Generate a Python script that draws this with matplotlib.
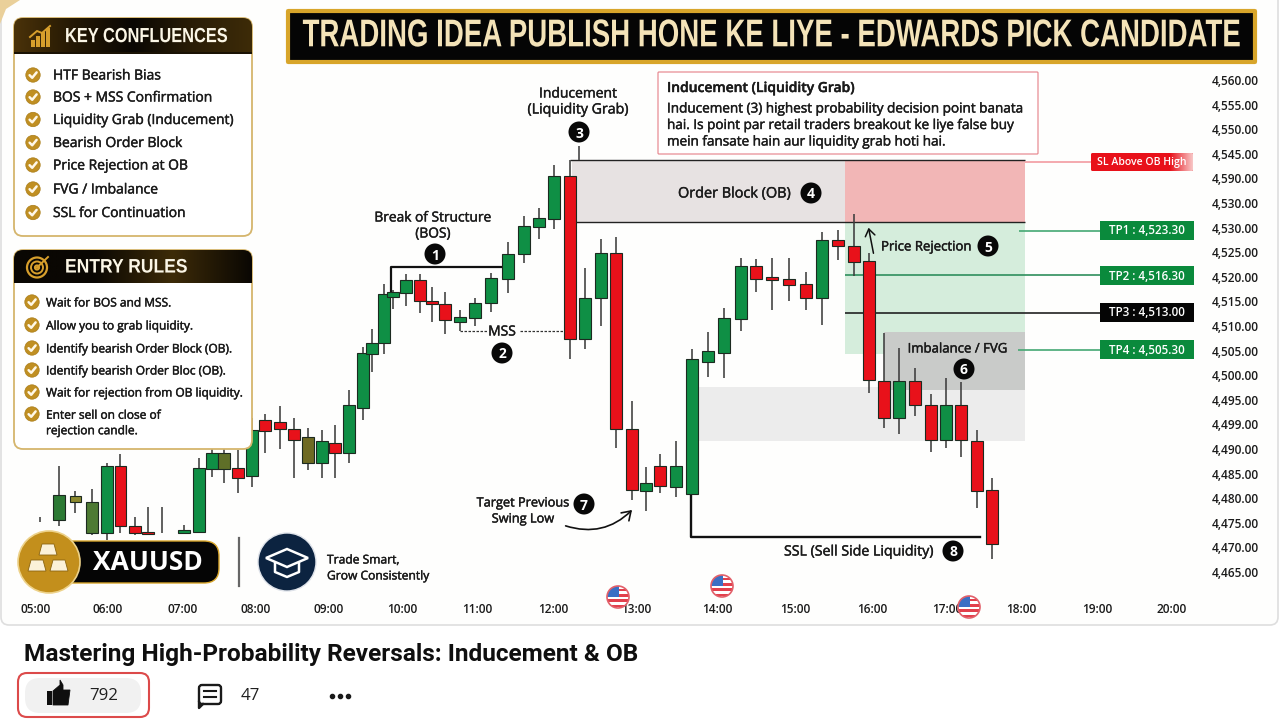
import numpy as np
import matplotlib
matplotlib.use('Agg')
import matplotlib.pyplot as plt
from matplotlib.patches import Circle, FancyBboxPatch, FancyArrowPatch, Polygon, Rectangle
from matplotlib.colors import LinearSegmentedColormap
from matplotlib.patheffects import AbstractPathEffect, withStroke
from matplotlib.transforms import Affine2D

# candles: minutes after 05:00 and prices
candle_time = [3.2, 18.2, 31.3, 44.4, 56.3, 67.0, 78.5, 88.8, 99.9, 117.3, 129.2, 139.5, 149.0, 160.1, 171.2, 181.5,
               193.4, 204.5, 215.6, 226.7, 237.0, 248.1, 259.2, 266.3, 275.8, 283.0, 293.3, 304.4, 313.9, 324.2, 336.1,
               347.9, 360.6, 374.1, 386.8, 398.7, 410.6, 423.2, 435.1, 447.8, 459.7, 472.4, 483.5, 494.6, 507.3, 519.9,
               532.6, 545.3, 558.8, 570.7, 583.3, 596.8, 610.3, 623.0, 635.7, 648.4, 660.2, 672.1, 684.0, 696.7, 709.4,
               721.3, 733.1, 745.8, 757.7]
candle_open = [4475.6, 4475.6, 4479.2, 4472.9, 4472.9, 4486.5, 4474.3, 4473.1, 4472.9, 4472.9, 4473.1, 4485.9, 4485.9,
               4486.1, 4484.5, 4495.9, 4495.5, 4494.1, 4487.2, 4487.2, 4491.2, 4489.2, 4498.3, 4509.3, 4511.5, 4520.9,
               4521.7, 4524.3, 4520.1, 4519.5, 4515.8, 4516.6, 4519.7, 4524.6, 4529.6, 4535.1, 4536.7, 4545.5, 4512.4,
               4520.7, 4529.8, 4494.1, 4481.5, 4486.5, 4482.3, 4480.9, 4507.7, 4509.5, 4516.4, 4527.2, 4525.0, 4524.6,
               4523.5, 4520.7, 4532.5, 4531.3, 4528.2, 4503.8, 4496.3, 4503.8, 4498.9, 4491.8, 4498.9, 4491.6, 4481.7]
candle_high = [4476.1, 4486.5, 4481.5, 4481.9, 4487.2, 4489.0, 4476.2, 4478.2, 4478.2, 4474.6, 4488.2, 4491.0, 4490.5,
               4489.8, 4496.3, 4497.1, 4498.7, 4496.3, 4494.3, 4493.9, 4494.9, 4502.0, 4510.7, 4514.4, 4523.5, 4522.3,
               4525.6, 4525.6, 4522.9, 4521.9, 4518.3, 4520.7, 4525.8, 4532.1, 4537.4, 4539.0, 4547.7, 4548.7, 4526.8,
               4532.7, 4533.1, 4499.8, 4486.3, 4489.0, 4491.6, 4510.3, 4513.8, 4518.7, 4528.8, 4528.6, 4528.8, 4528.8,
               4526.0, 4534.1, 4534.5, 4537.8, 4529.8, 4513.6, 4510.5, 4506.5, 4501.2, 4504.4, 4503.6, 4493.9, 4484.1]
candle_low = [4475.2, 4474.3, 4477.0, 4472.5, 4471.5, 4472.9, 4472.5, 4472.5, 4472.9, 4472.7, 4472.9, 4484.3, 4483.1,
              4481.1, 4482.3, 4489.2, 4490.0, 4484.1, 4485.7, 4484.1, 4484.1, 4487.2, 4495.9, 4505.7, 4509.3, 4518.5,
              4519.1, 4517.6, 4515.8, 4513.4, 4514.0, 4515.0, 4517.8, 4521.7, 4527.8, 4532.7, 4534.7, 4508.3, 4510.3,
              4515.0, 4490.2, 4479.6, 4477.4, 4481.1, 4480.2, 4480.9, 4504.6, 4504.4, 4514.0, 4521.9, 4518.3, 4520.1,
              4518.3, 4515.2, 4528.4, 4525.2, 4501.4, 4494.3, 4493.0, 4496.7, 4489.4, 4490.2, 4488.4, 4478.0, 4467.6]
candle_close = [4475.6, 4480.6, 4480.4, 4479.2, 4486.5, 4474.3, 4472.9, 4472.8, 4472.9, 4473.5, 4486.1, 4489.2, 4489.2,
                4484.1, 4493.9, 4493.7, 4494.1, 4491.8, 4492.4, 4491.6, 4489.2, 4498.9, 4509.5, 4511.5, 4521.5, 4521.9,
                4524.3, 4520.1, 4519.5, 4516.2, 4516.8, 4519.7, 4524.8, 4529.6, 4535.3, 4537.0, 4545.5, 4512.4, 4520.7,
                4529.8, 4494.1, 4481.7, 4483.1, 4482.5, 4486.5, 4508.3, 4509.9, 4516.6, 4527.2, 4524.6, 4524.3, 4523.3,
                4520.7, 4532.5, 4531.3, 4528.0, 4504.0, 4496.3, 4503.8, 4498.9, 4491.8, 4498.9, 4491.8, 4481.5, 4470.7]

# axis ticks. the picture's labels repeat and jump, so they are kept as drawn
price_ticks = [4565, 4560, 4555, 4550, 4545, 4540, 4535, 4530, 4525, 4520, 4515, 4510, 4505, 4500, 4495, 4490, 4485,
               4480, 4475, 4470, 4465]
price_labels = ['4,560.00', '4,555.00', '4,550.00', '4,545.00', '4,590.00', '4,530.00', '4,530.00', '4,525.00',
                '4,520.00', '4,515.00', '4,510.00', '4,505.00', '4,500.00', '4,495.00', '4,499.00', '4,490.00',
                '4,485.00', '4,480.00', '4,475.00', '4,470.00', '4,465.00']
time_ticks = [0, 57, 116, 174, 232, 290, 350, 410, 476, 540, 602, 663, 722, 781, 841, 900]
time_labels = ['05:00', '06:00', '07:00', '08:00', '09:00', '10:00', '11:00', '12:00', '13:00', '14:00', '15:00',
               '16:00', '17:00', '18:00', '19:00', '20:00']

# levels and zones on the chart
ob_top, ob_bottom = 4548.7, 4536.1
tp_zone_bottom = 4509.3
fvg_top, fvg_bottom = 4513.8, 4502.0
imb_top, imb_bottom = 4502.6, 4491.6
sl_level = 4548.3
tp_levels = [4534.3, 4525.4, 4517.7, 4510.2]
tp_labels = ['TP1 : 4,523.30', 'TP2 : 4,516.30', 'TP3 : 4,513.00', 'TP4 : 4,505.30']
bos_level = 4527.0
mss_level = 4514.0
ssl_level = 4472.1

key_items = ['HTF Bearish Bias', 'BOS + MSS Confirmation', 'Liquidity Grab (Inducement)', 'Bearish Order Block',
             'Price Rejection at OB', 'FVG / Imbalance', 'SSL for Continuation']
rule_items = ['Wait for BOS and MSS.', 'Allow you to grab liquidity.', 'Identify bearish Order Block (OB).',
              'Identify bearish Order Bloc (OB).', 'Wait for rejection from OB liquidity.', 'Enter sell on close of\nrejection candle.']
callout_body = ['Inducement (3) highest probability decision point banata',
                'hai. Is point par retail traders breakout ke liye false buy',
                'mein fansate hain aur liquidity grab hoti hai.']

UP = '#0f8f45'
DOWN = '#e8111a'
MUTED = {1: '#2c7a34', 2: '#8c8a2e', 3: '#4d7a33', 12: '#5f6f28', 18: '#6e6a22'}
FONT = ['Open Sans', 'DejaVu Sans']
plt.rcParams['font.family'] = FONT
INK = '#1b1b1b'
HEAD_FONT = ['Liberation Sans', 'DejaVu Sans']


class StretchY(AbstractPathEffect):
    """tall heading lettering, no condensed font is installed"""

    def __init__(self, sy, y_display):
        super().__init__()
        self.sy = sy
        self.y_display = y_display

    def draw_path(self, renderer, gc, tpath, affine, rgbFace=None):
        tr = affine + Affine2D().translate(0, -self.y_display).scale(1, self.sy).translate(0, self.y_display)
        renderer.draw_path(gc, tpath, tr, rgbFace)


fig = plt.figure(figsize=(12.8, 7.2), dpi=100, facecolor='white')

# background card
bg = fig.add_axes([0, 0, 1, 1], zorder=0)
bg.set_xlim(0, 1280)
bg.set_ylim(720, 0)
bg.axis('off')
bg.add_patch(FancyBboxPatch((1, -20), 1277, 645, boxstyle='round,pad=0,rounding_size=8', fc='#fefefd', ec='#dedede', lw=1.2))
bg.add_patch(Polygon([[0, 0], [20, 0], [6, 9], [0, 24]], fc='#ead09a', ec='none'))

# chart
ax = fig.add_axes([0, 122 / 720, 1206 / 1280, 598 / 720], zorder=1)
ax.set_facecolor('none')
ax.set_xlim(-28.5, 927.3)
ax.set_ylim(4459.72, 4581.26)
for s in ax.spines.values():
    s.set_visible(False)
ax.yaxis.tick_right()
ax.set_yticks(price_ticks)
ax.set_yticklabels(price_labels, fontsize=8.6, color=INK, fontweight='semibold')
ax.set_xticks(time_ticks)
ax.set_xticklabels(time_labels, fontsize=8.6, color=INK, fontweight='semibold')
ax.tick_params(length=0)
ax.tick_params(axis='y', pad=4)
ax.tick_params(axis='x', pad=3.5)

zone_l, zone_m, zone_r = 424.8, 641.2, 783.9
ax.fill_between([zone_l, zone_m], ob_bottom, ob_top, color='#e7e2e2', lw=0, zorder=1)
ax.fill_between([zone_m, zone_r], ob_bottom, ob_top, color='#f2b6b6', lw=0, zorder=1)
ax.fill_between([zone_m, zone_r], tp_zone_bottom, ob_bottom, color='#d5eddc', lw=0, zorder=1)
ax.fill_between([524.7, zone_r], imb_bottom, imb_top, color='#ececec', lw=0, zorder=1)
ax.fill_between([672.1, zone_r], fvg_bottom, fvg_top, color='#c9cbc9', lw=0, zorder=1.1)

ax.hlines([ob_top, ob_bottom], [423.2, 424.8], zone_r, color='#222222', lw=1.0, zorder=2)
ax.plot([281.4, 281.4, 369.3], [4521.1, bos_level, bos_level], color='#111111', lw=1.6, zorder=2)
ax.plot([336.1, 357.5], [mss_level, mss_level], color='#333333', lw=0.9, ls=(0, (2, 1.2)), zorder=2)
ax.plot([383.6, 418.5], [mss_level, mss_level], color='#333333', lw=0.9, ls=(0, (2, 1.2)), zorder=2)
ax.plot([519.2, 519.2, 748.2], [4480.9, ssl_level, ssl_level], color='#111111', lw=1.7, zorder=2)
ax.vlines(430.4, ob_top, 4551.6, color='#555555', lw=1.3, zorder=2)

# tp and sl leader lines
label_x = 843.0
ax.hlines(sl_level, zone_r, 836.0, color='#f3a3a8', lw=1.3, zorder=2)
ax.hlines(tp_levels[0], 779.0, label_x, color='#45a873', lw=1.2, zorder=2)
ax.hlines(tp_levels[1], zone_m, label_x, color='#2f8f5d', lw=1.2, zorder=2)
ax.hlines(tp_levels[2], zone_m, label_x, color='#222222', lw=1.2, zorder=2)
ax.hlines(tp_levels[3], 778.0, label_x, color='#45a873', lw=1.2, zorder=2)

t = np.array(candle_time)
o = np.array(candle_open)
c = np.array(candle_close)
colors = np.array([MUTED.get(i, UP if c[i] >= o[i] else DOWN) for i in range(len(t))])
has_body = np.abs(c - o) > 0
ax.vlines(t, candle_low, candle_high, color='#3d3d3d', lw=1.15, zorder=3)
ax.bar(t[has_body], np.abs(c - o)[has_body], bottom=np.minimum(o, c)[has_body], width=9.0, color=colors[has_body],
       edgecolor='#1c2a20', lw=0.8, zorder=4)

# overlay in image pixels for panels and labels
ov = fig.add_axes([0, 0, 1, 1], zorder=2)
ov.axis('off')
ov.set_facecolor('none')


def grad(x0, y0, x1, y1, stops, clip, vertical=False):
    cmap = LinearSegmentedColormap.from_list('g', stops)
    arr = np.linspace(0, 1, 256)
    arr = arr.reshape(-1, 1) if vertical else arr.reshape(1, -1)
    im = ov.imshow(arr, extent=(x0, x1, y1, y0), cmap=cmap, aspect='auto', zorder=3, origin='upper')
    im.set_clip_path(clip)


def rbox(x, y, w, h, r, **kw):
    p = FancyBboxPatch((x, y), w, h, boxstyle=f'round,pad=0,rounding_size={r}', **kw)
    ov.add_patch(p)
    return p


def num(x, y, n, r=10.5):
    ov.add_patch(Circle((x, y), r, fc='#080808', ec='none', zorder=6))
    ov.text(x, y, str(n), color='white', fontsize=10, fontweight='bold', ha='center', va='center_baseline', zorder=7)


def label(x, y, s, ha='center', size=9.5, weight='medium', color=INK):
    ov.text(x, y + 1, s, ha=ha, va='center', fontsize=size, fontweight=weight, color=color, zorder=7,
            path_effects=[withStroke(linewidth=0.3, foreground=color)])


def check(x, y):
    ov.add_patch(Circle((x, y), 7.2, fc='#c08f22', ec='#a97c18', lw=0.5, zorder=5))
    ov.plot([x - 3.4, x - 0.8, x + 3.6], [y + 0.2, y + 2.8, y - 2.6], color='#fff8e8', lw=1.8, zorder=6, solid_capstyle='round')


def flag(x, y, r=11):
    clip = Circle((x, y), r, transform=ov.transData)
    ov.add_patch(Circle((x, y), r, fc='white', ec='none', zorder=8))
    for k in range(4):
        p = Rectangle((x - r, y - r + 3 + k * 5.2), 2 * r, 2.4, fc='#e2404c', ec='none', zorder=8)
        ov.add_patch(p)
        p.set_clip_path(clip)
    p = Rectangle((x - r, y - r), r + 1, r, fc='#3a6fc4', ec='none', zorder=8)
    ov.add_patch(p)
    p.set_clip_path(clip)
    ov.add_patch(Circle((x, y), r, fc='none', ec='#e2606a', lw=1.2, zorder=9))


# banner
rbox(288, 11, 967, 51, 0.5, fc='#050505', ec='#d8a52a', lw=3, zorder=3)
ov.text(772, 36.5, 'TRADING IDEA PUBLISH HONE KE LIYE - EDWARDS PICK CANDIDATE', ha='center', va='center', color='#f4e3b8',
        fontsize=19.9, fontweight='bold', family=HEAD_FONT, zorder=5, path_effects=[StretchY(1.4, 720 - 36.5)])

# key confluences panel
panel = rbox(14, 18, 238, 218, 9, fc='white', ec='#d5b56c', lw=1.3, zorder=2.5)
grad(14, 18, 252, 54, ['#4a3209', '#241804', '#0a0703', '#2a1d06', '#3d2b08'], panel)
ov.add_patch(Rectangle((14, 52), 238, 2, fc='#1a1204', ec='none', zorder=3.1))
ov.text(65, 36.5, 'KEY CONFLUENCES', color='#fbf6e6', fontsize=11.8, fontweight='bold', ha='left', va='center',
        family=HEAD_FONT, zorder=5, path_effects=[StretchY(1.25, 720 - 36.5)])
for bx, bh in zip([31, 36, 41, 46], [7, 11, 15, 19]):
    ov.add_patch(Rectangle((bx, 47 - bh), 3.6, bh, fc='#d79f2c', ec='none', zorder=5))
ov.plot([30, 37, 42, 50], [37, 31, 33, 26], color='#d79f2c', lw=1.4, zorder=5)
for y, s in zip([75, 97, 119.5, 142.5, 165, 189, 212.5], key_items):
    check(33, y)
    label(53, y, s, ha='left', size=10)

# entry rules panel
panel2 = rbox(14, 250, 238, 199, 9, fc='white', ec='#d5b56c', lw=1.3, zorder=2.5)
grad(14, 250, 252, 283, ['#0a0703', '#0a0703', '#3d2b08', '#0a0703'], panel2)
ov.text(65, 267.5, 'ENTRY RULES', color='#fbf6e6', fontsize=12.6, fontweight='bold', ha='left', va='center',
        family=HEAD_FONT, zorder=5, path_effects=[StretchY(1.12, 720 - 267.5)])
for r, lw in zip([10, 6, 2], [1.6, 1.4, 1.6]):
    ov.add_patch(Circle((37, 267.5), r, fc='none', ec='#d79f2c', lw=lw, zorder=5))
ov.plot([37, 48], [267.5, 257], color='#d79f2c', lw=1.4, zorder=5)
for y, cy, s in zip([302, 325, 348, 370, 392, 422], [302, 325, 348, 370, 392, 414], rule_items):
    check(32, cy)
    ov.text(46, y + 1, s, ha='left', va='center', fontsize=8.6, fontweight='medium', color=INK, linespacing=1.25, zorder=7,
            path_effects=[withStroke(linewidth=0.3, foreground=INK)])

# callout
rbox(658, 72, 380, 82, 1, fc='white', ec='#e88d94', lw=0.9, zorder=2.5)
label(667, 87, 'Inducement (Liquidity Grab)', ha='left', size=10, weight='semibold')
for y, s in zip([108, 124.5, 141], callout_body):
    label(667, y, s, ha='left', size=9.75)

# chart labels
label(578, 93, 'Inducement', size=10)
label(578, 109, '(Liquidity Grab)', size=10.2)
num(579, 132, 3)
label(433, 217, 'Break of Structure', size=9.9)
label(433, 233, '(BOS)', size=9.9)
num(435, 254, 1)
label(502, 331, 'MSS', size=10)
num(502, 353, 2)
label(678, 193, 'Order Block (OB)', ha='left', size=10.4)
num(811, 193, 4)
label(881, 246, 'Price Rejection', ha='left')
num(988, 246, 5)
label(958, 348, 'Imbalance / FVG')
num(964, 369, 6)
label(523, 502, 'Target Previous', size=9.2)
label(523, 518, 'Swing Low', size=9.2)
num(584, 504, 7)
label(784, 551, 'SSL (Sell Side Liquidity)', ha='left', size=10.2)
num(953, 551, 8)
ov.add_patch(FancyArrowPatch((874, 256), (868, 225), arrowstyle='->,head_length=5,head_width=3.5', color='#111111', lw=1.1, zorder=6))
ov.add_patch(FancyArrowPatch((563, 525), (634, 508), connectionstyle='arc3,rad=0.32', arrowstyle='->,head_length=6,head_width=4',
                             color='#111111', lw=1.2, zorder=6))

# level tags
sl_box = rbox(1091, 153, 102, 18, 1.5, fc='#e8111a', ec='none', zorder=3)
grad(1170, 153, 1193, 171, ['#e8111a', '#f8c8c8'], sl_box)
ov.text(1142, 162.5, 'SL Above OB High', color='white', fontsize=7.6, fontweight='semibold', ha='center', va='center', zorder=7)
for y, s, col in zip([230.5, 275.5, 312.5, 349.5], tp_labels, ['#0a8a3c', '#0a8a3c', '#050505', '#0a8a3c']):
    ov.add_patch(Rectangle((1100, y - 9.5), 94, 19, fc=col, ec='none', zorder=3))
    ov.text(1147, y + 0.5, s, color='white', fontsize=8.4, fontweight='semibold', ha='center', va='center', zorder=7)

# xauusd badge
rbox(58, 541, 161, 42, 15, fc='#050505', ec='#d8a52a', lw=1.0, zorder=3)
ov.text(148, 562, 'XAUUSD', color='white', fontsize=19, fontweight='bold', ha='center', va='center', zorder=5)
ov.add_patch(Circle((49, 562), 31, fc='#c38f1c', ec='#edd28a', lw=1.2, zorder=4))
for x0, y0 in [(49, 550), (38, 566), (60, 566)]:
    ov.add_patch(Polygon([[x0 - 7, y0 - 6], [x0 + 5, y0 - 6], [x0 + 8, y0 + 5], [x0 - 10, y0 + 5]], fc='#fbf1d8', ec='#8a6410', lw=0.6, zorder=5))
ov.plot([239, 239], [538, 586], color='#666666', lw=1.6, zorder=3)
ov.add_patch(Circle((287, 562), 29, fc='#0c2340', ec='#dfe3ea', lw=1, zorder=4))
ov.add_patch(Polygon([[287, 549], [308, 558], [287, 567], [266, 558]], fc='none', ec='white', lw=1.8, zorder=5))
ov.plot([275, 275, 287, 299, 299], [563, 572, 577, 572, 563], color='white', lw=1.8, zorder=5)
label(327, 559, 'Trade Smart,', ha='left', size=8.7)
label(327, 575, 'Grow Consistently', ha='left', size=8.7)

flag(618, 597)
flag(722, 586)
flag(969, 607)

# page footer
ov.text(24, 655, 'Mastering High-Probability Reversals: Inducement & OB', fontsize=17.6, fontweight='semibold', color='#0f0f0f',
        ha='left', va='center', family=['Roboto', 'DejaVu Sans'], zorder=5)
rbox(18, 673, 131, 44, 9, fc='white', ec='#dc4a4a', lw=1.5, zorder=3)
rbox(25, 678, 116, 35, 15, fc='#f1f1f1', ec='none', zorder=3.5)
ov.add_patch(Rectangle((46.5, 691), 5, 14, fc='#0f0f0f', ec='none', zorder=5))
ov.add_patch(Polygon([[53, 691], [60, 685], [60, 680], [63, 685], [63, 690], [70, 690], [68, 705], [53, 705]], fc='#0f0f0f', ec='#0f0f0f', lw=0.6, zorder=5))
ov.text(103.5, 696.5, '792', fontsize=12.2, color='#202020', ha='center', va='center', zorder=5)
rbox(199, 685, 22, 19, 3, fc='none', ec='#1a1a1a', lw=1.7, zorder=5)
ov.plot([203, 199, 199], [704, 708, 702], color='#1a1a1a', lw=1.7, zorder=5)
ov.plot([204, 216], [691, 691], color='#1a1a1a', lw=1.5, zorder=5)
ov.plot([204, 216], [697, 697], color='#1a1a1a', lw=1.5, zorder=5)
ov.text(250.5, 696.5, '47', fontsize=12.2, color='#202020', ha='center', va='center', zorder=5)
ov.scatter([332, 340, 348], [696, 696, 696], s=9, color='#1a1a1a', zorder=5)

ov.set_xlim(0, 1280)
ov.set_ylim(720, 0)

fig.savefig('out.png', dpi=100)
